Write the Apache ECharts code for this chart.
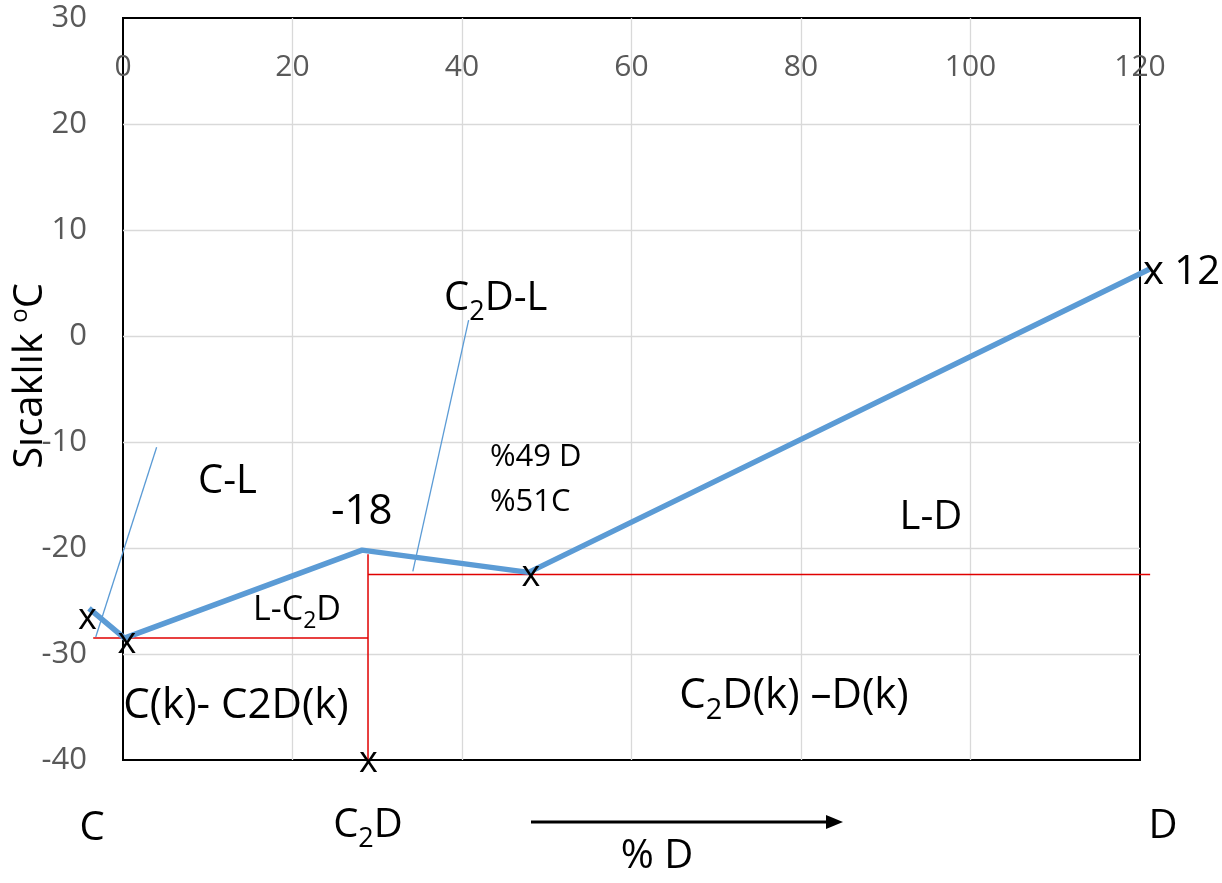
<!DOCTYPE html>
<html><head><meta charset="utf-8">
<script src="https://cdn.jsdelivr.net/npm/echarts@6/dist/echarts.min.js"></script>
<style>html,body{margin:0;padding:0;background:#fff}#c{width:1222px;height:883px}</style>
</head><body><div id="c"></div>
<script>
// ---- data ----
const xAxisMin = 0, xAxisMax = 120, xAxisStep = 20;
const yAxisMin = -40, yAxisMax = 30, yAxisStep = 10;

// liquidus curve (blue)
const liquidusX = [-4.0, 0.2, 28.3, 48.0, 121.4];
const liquidusY = [-25.7, -28.5, -20.2, -22.3, 6.3];

// red construction lines
const eutLowX = [-3.5, 29.0];   const eutLowY = [-28.5, -28.5];
const compX = [29.0, 29.0];     const compY = [-20.6, -40.0];
const eutHighX = [29.0, 121.5]; const eutHighY = [-22.5, -22.5];

// thin leader lines (blue)
const lead1X = [4.0, -3.2];  const lead1Y = [-10.5, -28.4];
const lead2X = [40.9, 34.3]; const lead2Y = [1.5, -22.2];

// annotation texts in data coordinates
const annText = ['x', 'x', 'x', 'x', 'x 12', '-18', 'C-L', 'C{s|2}D-L', '%49 D', '%51C', 'L-D', 'L-C{s|2}D', 'C(k)- C2D(k)', 'C{s|2}D(k) \u2013D(k)'];
const annX = [-4.19, 0.47, 28.97, 48.14, 120.35, 28.17, 12.33, 43.98, 43.3, 43.3, 95.34, 20.53, 13.33, 79.17];
const annY = [-26.65, -28.9, -40.15, -22.6, 5.98, -16.6, -13.77, 3.49, -11.42, -15.66, -17.17, -25.85, -34.9, -33.96];

const zip = (xs, ys) => xs.map((v, i) => [v, ys[i]]);

// ---- layout / style ----
const FONT = 'Open Sans';
const BLUE = '#5B9BD5';
const RED = '#E00000';
const GRID = {left: 123, top: 18, right: 82, bottom: 123};
const W = 1222;
const annSize = [36, 36, 36, 36, 40, 42, 40, 40, 31, 31, 40, 34, 42, 42];
const annAlign = ['center','center','center','center','left','center','center','center','left','left','center','center','center','center'];

// an invisible companion grid sharing the exact same scale, but with a wider
// extent, so lines that run slightly past the plot frame are not cut off
const pad = 10;
const plotW = W - GRID.left - GRID.right;
const pxPerUnit = plotW / (xAxisMax - xAxisMin);
const wideGrid = {left: GRID.left - pad * pxPerUnit, top: GRID.top, right: GRID.right - pad * pxPerUnit, bottom: GRID.bottom, show: false};

const chart = echarts.init(document.getElementById('c'), null, {renderer: 'canvas'});

function seg(xs, ys, color, width, z) {
  return {type: 'line', xAxisIndex: 1, yAxisIndex: 1, data: zip(xs, ys), showSymbol: false, symbol: 'none', clip: false,
    lineStyle: {color: color, width: width}, z: z, silent: true, animation: false};
}

const option = {
  backgroundColor: '#fff',
  animation: false,
  grid: [
    Object.assign({show: true, borderColor: '#000', borderWidth: 2, backgroundColor: 'transparent'}, GRID),
    wideGrid
  ],
  xAxis: [{
    gridIndex: 0, type: 'value', position: 'top', min: xAxisMin, max: xAxisMax, interval: xAxisStep,
    axisLine: {show: false}, axisTick: {show: false},
    axisLabel: {inside: true, margin: 34, color: '#595959', fontSize: 30, fontFamily: FONT, showMinLabel: true, showMaxLabel: true},
    splitLine: {show: true, showMinLine: false, showMaxLine: false, lineStyle: {color: '#D9D9D9', width: 1.3}}
  }, {
    gridIndex: 1, type: 'value', min: xAxisMin - pad, max: xAxisMax + pad, show: false
  }],
  yAxis: [{
    gridIndex: 0, type: 'value', min: yAxisMin, max: yAxisMax, interval: yAxisStep,
    axisLine: {show: false}, axisTick: {show: false},
    axisLabel: {margin: 36, color: '#595959', fontSize: 31, fontFamily: FONT},
    splitLine: {show: true, showMinLine: false, showMaxLine: false, lineStyle: {color: '#D9D9D9', width: 1.3}}
  }, {
    gridIndex: 1, type: 'value', min: yAxisMin, max: yAxisMax, show: false
  }],
  series: [
    seg(eutLowX, eutLowY, RED, 1.5, 2),
    seg(compX, compY, RED, 1.5, 2),
    seg(eutHighX, eutHighY, RED, 1.5, 2),
    seg(lead1X, lead1Y, BLUE, 1.3, 3),
    seg(lead2X, lead2Y, BLUE, 1.3, 3),
    seg(liquidusX, liquidusY, BLUE, 5.5, 4)
  ]
};
chart.setOption(option);

function txt(text, x, y, size, align, extra) {
  return Object.assign({
    type: 'text', x: x, y: y, z: 100,
    style: {
      text: text, fill: '#000', fontSize: size, fontFamily: FONT,
      align: align || 'center', verticalAlign: 'middle',
      rich: {
        s: {fontSize: Math.round(size * 0.68), fontFamily: FONT, fill: '#000', padding: [Math.round(size * 0.68), 0, 0, 0]},
        sup: {fontSize: Math.round(size * 0.6), fontFamily: FONT, fill: '#000', padding: [0, 0, Math.round(size * 0.55), 0]}
      }
    }
  }, extra || {});
}

const graphics = [];
annText.forEach((t, i) => {
  const p = chart.convertToPixel({gridIndex: 0}, [annX[i], annY[i]]);
  graphics.push(txt(t, p[0], p[1], annSize[i], annAlign[i]));
});
// outside-plot texts
graphics.push(txt('S\u0131cakl\u0131k {sup|o}C', 31, 376, 40, 'center', {rotation: Math.PI / 2}));
graphics.push(txt('C', 92, 829, 40));
graphics.push(txt('C{s|2}D', 368, 826, 40));
graphics.push(txt('D', 1163, 827, 40));
graphics.push(txt('% D', 657, 857, 40));
// arrow
graphics.push({type: 'line', z: 100, shape: {x1: 531, y1: 822, x2: 830, y2: 822}, style: {stroke: '#000', lineWidth: 3}});
graphics.push({type: 'polygon', z: 100, shape: {points: [[826, 815], [843, 822], [826, 829]]}, style: {fill: '#000'}});

chart.setOption({graphic: graphics});
</script>
</body></html>
